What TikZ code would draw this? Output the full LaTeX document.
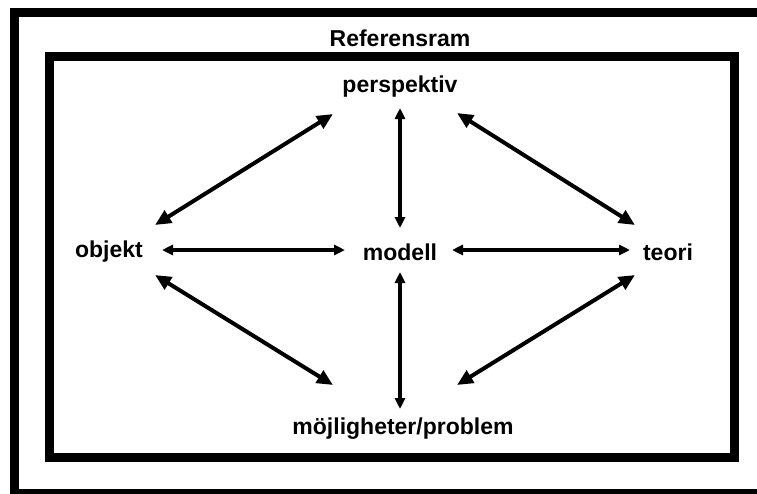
\documentclass[tikz,border=0pt]{standalone}
\usepackage{fontspec}
\setmainfont{Liberation Sans}
\usetikzlibrary{arrows.meta,calc}
\begin{document}
\begin{tikzpicture}[x=1pt,y=-1pt,
  lbl/.style={font=\fontsize{23}{26}\selectfont\bfseries, inner sep=0pt},
  frame/.style={draw=black, line width=9pt},
  hv/.style={line width=3.2pt, {Triangle[length=11pt,width=10pt]}-{Triangle[length=11pt,width=10pt]}},
  diag/.style={line width=4pt, {Triangle[length=16pt,width=14pt]}-{Triangle[length=16pt,width=14pt]}}]
\useasboundingbox (0,0) rectangle (757,493);
\fill[white] (0,0) rectangle (757,493);
\draw[frame] (14.5,12.5) rectangle (766,493.5);
\draw[frame] (49,56.5) rectangle (734.5,457.5);
\node[lbl] (ref) at (400,38) {Referensram};
\node[lbl] (per) at (400,87) {perspektiv};
\node[lbl] (obj) at (109,252) {objekt};
\node[lbl] (mod) at (400,252) {modell};
\node[lbl] (teo) at (668,252) {teori};
\node[lbl] (moj) at (403,429) {möjligheter/problem};
\draw[hv] ($(per)+(0,21)$) -- ($(mod)+(0,-24)$);
\draw[hv] ($(mod)+(0,20)$) -- ($(moj)+(-3,-20)$);
\draw[hv] ($(obj)+(53,-2)$) -- ($(mod)+(-55,-2)$);
\draw[hv] ($(mod)+(52,-2)$) -- ($(teo)+(-38,-2)$);
\draw[diag] ($(obj)+(46,-27)$) -- ($(per)+(-67,27)$);
\draw[diag] ($(per)+(57,26)$) -- ($(teo)+(-33,-27)$);
\draw[diag] ($(obj)+(46,23)$) -- ($(moj)+(-70,-44)$);
\draw[diag] ($(teo)+(-33,23)$) -- ($(moj)+(54,-44)$);
\end{tikzpicture}
\end{document}
